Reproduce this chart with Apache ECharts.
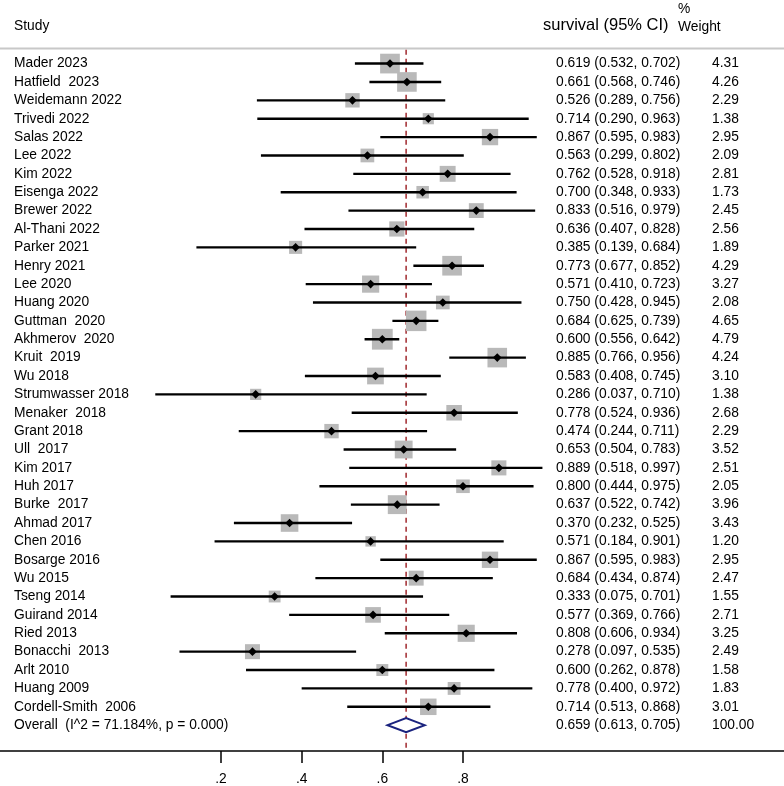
<!DOCTYPE html>
<html><head><meta charset="utf-8">
<script src="https://cdn.jsdelivr.net/npm/echarts@6/dist/echarts.min.js"></script>
<style>html,body{margin:0;padding:0;background:#fff}#c{width:784px;height:786px}</style>
</head><body><div id="c"></div>
<script>
const studies = ["Mader 2023","Hatfield  2023","Weidemann 2022","Trivedi 2022","Salas 2022","Lee 2022","Kim 2022","Eisenga 2022","Brewer 2022","Al-Thani 2022","Parker 2021","Henry 2021","Lee 2020","Huang 2020","Guttman  2020","Akhmerov  2020","Kruit  2019","Wu 2018","Strumwasser 2018","Menaker  2018","Grant 2018","Ull  2017","Kim 2017","Huh 2017","Burke  2017","Ahmad 2017","Chen 2016","Bosarge 2016","Wu 2015","Tseng 2014","Guirand 2014","Ried 2013","Bonacchi  2013","Arlt 2010","Huang 2009","Cordell-Smith  2006"];
const est = [0.619,0.661,0.526,0.714,0.867,0.563,0.762,0.700,0.833,0.636,0.385,0.773,0.571,0.750,0.684,0.600,0.885,0.583,0.286,0.778,0.474,0.653,0.889,0.800,0.637,0.370,0.571,0.867,0.684,0.333,0.577,0.808,0.278,0.600,0.778,0.714];
const lo = [0.532,0.568,0.289,0.290,0.595,0.299,0.528,0.348,0.516,0.407,0.139,0.677,0.410,0.428,0.625,0.556,0.766,0.408,0.037,0.524,0.244,0.504,0.518,0.444,0.522,0.232,0.184,0.595,0.434,0.075,0.369,0.606,0.097,0.262,0.400,0.513];
const hi = [0.702,0.746,0.756,0.963,0.983,0.802,0.918,0.933,0.979,0.828,0.684,0.852,0.723,0.945,0.739,0.642,0.956,0.745,0.710,0.936,0.711,0.783,0.997,0.975,0.742,0.525,0.901,0.983,0.874,0.701,0.766,0.934,0.535,0.878,0.972,0.868];
const weight = [4.31,4.26,2.29,1.38,2.95,2.09,2.81,1.73,2.45,2.56,1.89,4.29,3.27,2.08,4.65,4.79,4.24,3.10,1.38,2.68,2.29,3.52,2.51,2.05,3.96,3.43,1.20,2.95,2.47,1.55,2.71,3.25,2.49,1.58,1.83,3.01];
const overallLabel = "Overall  (I^2 = 71.184%, p = 0.000)";
const overall = {est:0.659, lo:0.613, hi:0.705, weight:100.00};
const tickValues = [0.2,0.4,0.6,0.8];

const FONT = "'Liberation Sans', Arial, sans-serif";
const FS = 13.8;

const studyData = studies.map((s,i)=>[i, est[i], lo[i], hi[i], weight[i]]);
const labelRows = studies.map((s,i)=>({value:[i], name:s, ci: est[i].toFixed(3)+" ("+lo[i].toFixed(3)+", "+hi[i].toFixed(3)+")", w: weight[i].toFixed(2)}));
labelRows.push({value:[studies.length], name: overallLabel, ci: overall.est.toFixed(3)+" ("+overall.lo.toFixed(3)+", "+overall.hi.toFixed(3)+")", w: overall.weight.toFixed(2)});

const chart = echarts.init(document.getElementById('c'), null, {renderer:'canvas'});
chart.setOption({
  animation:false,
  grid:{left:0, top:0, width:784, height:756},
  xAxis:{type:'value', min:-0.348, max:1.596,
    axisLine:{show:true, onZero:false, lineStyle:{color:'#000', width:1.5}},
    axisTick:{show:true, customValues:tickValues, length:12, lineStyle:{color:'#000', width:1.5}},
    axisLabel:{show:true, customValues:tickValues, margin:21, fontSize:FS, fontFamily:FONT, color:'#000',
      formatter:v=>String(v).replace(/^0/,'')},
    splitLine:{show:false}},
  yAxis:{type:'value', inverse:true, min:-3.459, max:37.405, show:false},
  graphic:[
    {type:'text', left:14, top:19, style:{text:'Study', fontSize:FS, fontFamily:FONT, fill:'#000'}},
    {type:'text', left:543, top:17, style:{text:'survival (95% CI)', fontSize:16.5, fontFamily:FONT, fill:'#000'}},
    {type:'text', left:678, top:2, style:{text:'%', fontSize:FS, fontFamily:FONT, fill:'#000'}},
    {type:'text', left:678, top:20, style:{text:'Weight', fontSize:FS, fontFamily:FONT, fill:'#000'}},
    {type:'line', shape:{x1:0,y1:48.5,x2:784,y2:48.5}, style:{stroke:'#c8c8c8', lineWidth:2}}
  ],
  series:[
    {type:'line', data:[[overall.est,-0.756],[overall.est,37.405]], symbol:'none',
      lineStyle:{color:'#a0282d', width:1.5, type:[5,4]}, z:1},
    {type:'custom', clip:false, data:studyData, z:3,
      renderItem:(params, api)=>{
        const i = api.value(0);
        const c = api.coord([api.value(1), i]);
        const l = api.coord([api.value(2), i]);
        const h = api.coord([api.value(3), i]);
        const s = 9.5*Math.sqrt(api.value(4));
        const d = 4.3;
        return {type:'group', children:[
          {type:'rect', shape:{x:c[0]-s/2, y:c[1]-s/2, width:s, height:s}, style:{fill:'#b9b9b9'}},
          {type:'line', shape:{x1:l[0], y1:c[1], x2:h[0], y2:c[1]}, style:{stroke:'#000', lineWidth:2.4}},
          {type:'polygon', shape:{points:[[c[0]-d,c[1]],[c[0],c[1]-d],[c[0]+d,c[1]],[c[0],c[1]+d]]}, style:{fill:'#000'}}
        ]};
      }},
    {type:'custom', clip:false, data:[[studies.length, overall.est, overall.lo, overall.hi]], z:3,
      renderItem:(params, api)=>{
        const i = api.value(0);
        const c = api.coord([api.value(1), i]);
        const l = api.coord([api.value(2), i]);
        const h = api.coord([api.value(3), i]);
        const hh = 7;
        return {type:'polygon', shape:{points:[[l[0],c[1]],[c[0],c[1]-hh],[h[0],c[1]],[c[0],c[1]+hh]]},
          style:{fill:'#fff', stroke:'#1a237e', lineWidth:2}};
      }},
    {type:'custom', clip:false, data:labelRows, z:4,
      renderItem:(params, api)=>{
        const row = labelRows[params.dataIndex];
        const y = api.coord([0, api.value(0)])[1];
        const st = t=>({text:t, fontSize:FS, fontFamily:FONT, fill:'#000', verticalAlign:'middle', align:'left'});
        return {type:'group', children:[
          {type:'text', x:14, y:y, style:st(row.name)},
          {type:'text', x:556, y:y, style:st(row.ci)},
          {type:'text', x:712, y:y, style:st(row.w)}
        ]};
      }}
  ]
});
</script></body></html>
